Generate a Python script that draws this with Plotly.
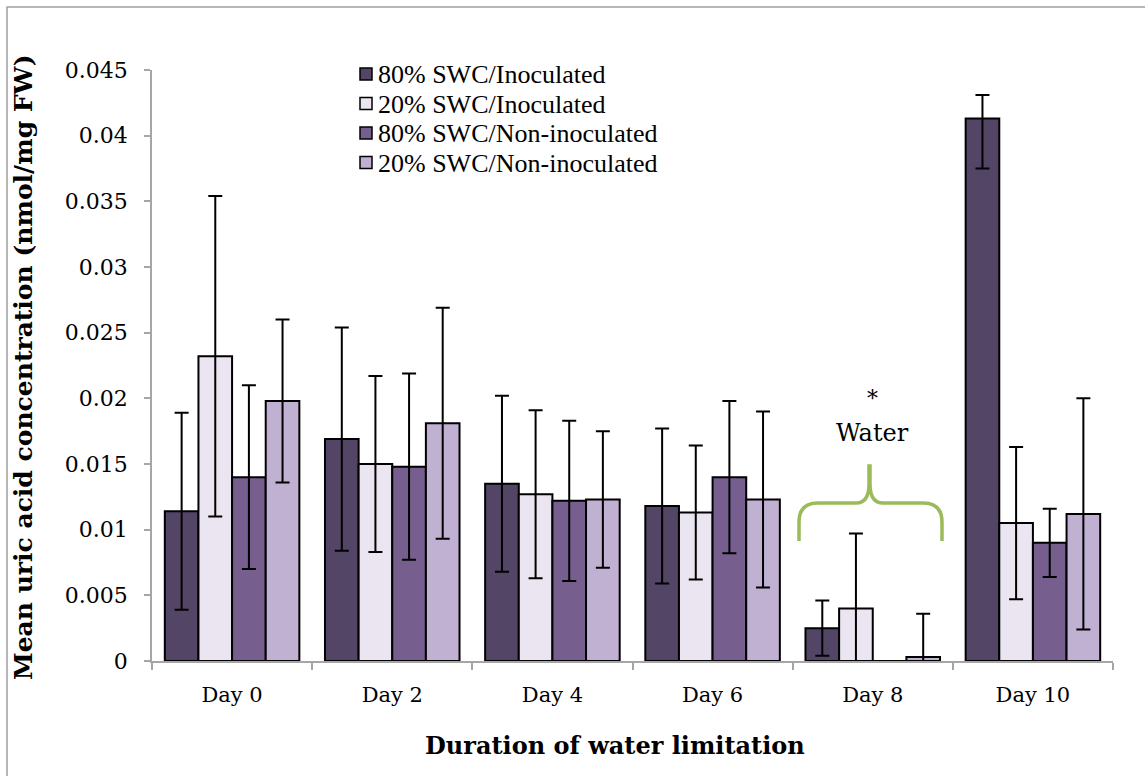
import plotly.graph_objects as go

# Sampling days
days = ["Day 0", "Day 2", "Day 4", "Day 6", "Day 8", "Day 10"]

# Mean uric acid concentration (nmol/mg FW) per treatment
inoc_80 = [0.0114, 0.0169, 0.0135, 0.0118, 0.0025, 0.0413]
inoc_20 = [0.0232, 0.0150, 0.0127, 0.0113, 0.0040, 0.0105]
noninoc_80 = [0.0140, 0.0148, 0.0122, 0.0140, 0.0, 0.0090]
noninoc_20 = [0.0198, 0.0181, 0.0123, 0.0123, 0.0003, 0.0112]

# Error bar extents (upper / lower)
inoc_80_err_up = [0.0075, 0.0085, 0.0067, 0.0059, 0.0021, 0.0018]
inoc_80_err_dn = [0.0075, 0.0085, 0.0067, 0.0059, 0.0021, 0.0038]
inoc_20_err = [0.0122, 0.0067, 0.0064, 0.0051, 0.0057, 0.0058]
noninoc_80_err = [0.0070, 0.0071, 0.0061, 0.0058, 0.0, 0.0026]
noninoc_20_err = [0.0062, 0.0088, 0.0052, 0.0067, 0.0033, 0.0088]

series_names = [
    "80% SWC/Inoculated",
    "20% SWC/Inoculated",
    "80% SWC/Non-inoculated",
    "20% SWC/Non-inoculated",
]
colors = ["#534566", "#EAE5F1", "#765F8E", "#C0B1D3"]

W, H = 1145, 776
L, R, T, B = 152, 32, 70, 115
PW, PH = W - L - R, H - T - B


def px(xp):
    return (xp - L) / PW


def py(yp):
    return (H - B - yp) / PH


AX_FONT = "DejaVu Serif"
LEG_FONT = "Liberation Serif, Times New Roman, serif"

fig = go.Figure()

series = [
    (inoc_80, inoc_80_err_up, inoc_80_err_dn),
    (inoc_20, inoc_20_err, inoc_20_err),
    (noninoc_80, noninoc_80_err, noninoc_80_err),
    (noninoc_20, noninoc_20_err, noninoc_20_err),
]

for name, color, (vals, up, dn) in zip(series_names, colors, series):
    fig.add_trace(
        go.Bar(
            name=name,
            x=days,
            y=vals,
            marker=dict(color=color, line=dict(color="black", width=2)),
            error_y=dict(
                type="data",
                array=up,
                arrayminus=dn,
                symmetric=False,
                color="black",
                thickness=2,
                width=7,
            ),
            showlegend=False,
        )
    )

grey = "#A6A6A6"

fig.update_layout(
    width=W,
    height=H,
    margin=dict(l=L, r=R, t=T, b=B, autoexpand=False),
    paper_bgcolor="white",
    plot_bgcolor="white",
    barmode="group",
    bargap=0.16,
    bargroupgap=0,
    showlegend=False,
    xaxis=dict(
        type="category",
        showline=True,
        linecolor=grey,
        linewidth=1.5,
        ticks="outside",
        tickson="boundaries",
        ticklen=7,
        tickcolor=grey,
        tickwidth=1.5,
        showgrid=False,
        tickfont=dict(family=AX_FONT, size=21, color="black"),
        ticklabelstandoff=14,
    ),
    yaxis=dict(
        range=[0, 0.045],
        tickvals=[0, 0.005, 0.01, 0.015, 0.02, 0.025, 0.03, 0.035, 0.04, 0.045],
        ticktext=["0", "0.005", "0.01", "0.015", "0.02", "0.025", "0.03", "0.035", "0.04", "0.045"],
        showline=True,
        linecolor=grey,
        linewidth=1.5,
        ticks="outside",
        ticklen=6,
        tickcolor=grey,
        tickwidth=1.5,
        showgrid=False,
        zeroline=False,
        tickfont=dict(family=AX_FONT, size=22, color="black"),
        ticklabelstandoff=12,
    ),
)

# Compact legend: swatch + label per series, stacked in the upper-left area
LEG_X0, LEG_Y0, LEG_DY, SW = 360, 74, 29.5, 12
for i, (name, color) in enumerate(zip(series_names, colors)):
    yc = LEG_Y0 + i * LEG_DY
    fig.add_shape(
        type="rect", xref="paper", yref="paper",
        x0=px(LEG_X0), x1=px(LEG_X0 + SW),
        y0=py(yc + SW / 2), y1=py(yc - SW / 2),
        fillcolor=color, line=dict(color="black", width=1.5),
    )
    fig.add_annotation(
        text=name, xref="paper", yref="paper",
        x=px(LEG_X0 + SW + 4), y=py(yc + 1),
        xanchor="left", yanchor="middle", showarrow=False,
        font=dict(family=LEG_FONT, size=26, color="black"),
    )

# Axis titles
fig.add_annotation(
    text="<b>Duration of water limitation</b>",
    xref="paper", yref="paper",
    x=px(615), y=py(745),
    xanchor="center", yanchor="middle",
    showarrow=False,
    font=dict(family=AX_FONT, size=24, color="black"),
)
fig.add_annotation(
    text="<b>Mean uric acid concentration (nmol/mg FW)</b>",
    xref="paper", yref="paper",
    x=px(23), y=py(368),
    xanchor="center", yanchor="middle",
    textangle=-90,
    showarrow=False,
    font=dict(family=AX_FONT, size=25, color="black"),
)

# Brace over the Day 8 group with its label
brace_pts = [
    ("M", 799, 541),
    ("L", 799, 522),
    ("Q", 799, 503, 818, 503),
    ("L", 856, 503),
    ("Q", 869, 503, 869, 484),
    ("L", 869, 466),
    ("L", 870, 466),
    ("L", 870, 484),
    ("Q", 870, 503, 883, 503),
    ("L", 923, 503),
    ("Q", 942, 503, 942, 522),
    ("L", 942, 541),
]
parts = []
for p in brace_pts:
    cmd = p[0]
    coords = p[1:]
    out = []
    for i in range(0, len(coords), 2):
        out.append(f"{px(coords[i]):.5f},{py(coords[i + 1]):.5f}")
    parts.append(cmd + " " + " ".join(out))
fig.add_shape(
    type="path",
    xref="paper", yref="paper",
    path=" ".join(parts),
    line=dict(color="#9BBB59", width=3.5),
)
fig.add_annotation(
    text="Water", xref="paper", yref="paper",
    x=px(872), y=py(433), xanchor="center", yanchor="middle",
    showarrow=False, font=dict(family=AX_FONT, size=24, color="black"),
)
fig.add_annotation(
    text="*", xref="paper", yref="paper",
    x=px(872), y=py(398), xanchor="center", yanchor="middle",
    showarrow=False, font=dict(family=AX_FONT, size=22, color="black"),
)

# Chart frame
fig.add_shape(
    type="rect", xref="paper", yref="paper",
    x0=px(7), y0=py(H + 20), x1=px(W + 20), y1=py(7),
    line=dict(color="#A0A0A0", width=1.5),
    layer="below",
)

fig.write_html("out.html")
